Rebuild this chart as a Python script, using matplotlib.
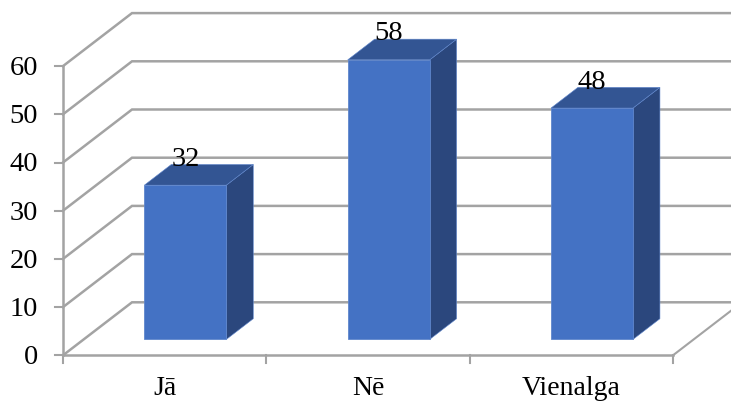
import matplotlib
matplotlib.use("Agg")
import matplotlib.pyplot as plt
from matplotlib.patches import Polygon

categories = ["Jā", "Nē", "Vienalga"]
values = [32, 58, 48]
y_ticks = [0, 10, 20, 30, 40, 50, 60, 70]
y_labels = [0, 10, 20, 30, 40, 50, 60]

W, H = 731, 402
X0, Y0 = 63, 356.3    # pixel position of the axis origin
CAT_W = 203.33        # pixels per category
UNIT = 4.82           # pixels per value unit

# depth of the 3d box, in data units
DX = 69 / CAT_W
DY = 53 / UNIT
BAR_W = 82 / CAT_W
D_NEAR = 0.30
D_FAR = 0.69

GRID = "#a3a3a3"
FRONT = "#4472c4"
SIDE = "#2b477d"
TOP = "#335593"
EDGE = "#5f86cc"

plt.rcParams["font.family"] = ["Liberation Serif", "DejaVu Serif"]

fig = plt.figure(figsize=(W / 100, H / 100), dpi=100)
ax = fig.add_axes([0, 0, 1, 1])
ax.set_xlim(-X0 / CAT_W, (W - X0) / CAT_W)
ax.set_ylim((Y0 - H) / UNIT, Y0 / UNIT)
ax.axis("off")

n = len(categories)

# wall gridlines, the top one has no label on the axis
for t in y_ticks[:-1]:
    ax.plot([0, DX, 4], [t, t + DY, t + DY], color=GRID, lw=1.8, zorder=1,
            solid_joinstyle="miter")

# floor edges
ax.plot([0, n], [0, 0], color=GRID, lw=1.8, zorder=2)
ax.plot([n, n + DX], [0, DY], color=GRID, lw=1.5, zorder=2)

# axes and ticks
ax.plot([0, 0], [0, 60], color=GRID, lw=1.8, zorder=2)
for t in y_labels:
    ax.plot([-8 / CAT_W, 0], [t, t], color=GRID, lw=1.5, zorder=2)
    ax.text(-25 / CAT_W, t - 0.3, str(t), ha="right", va="center", fontsize=20.5,
            color="black")
for i in range(n + 1):
    ax.plot([i, i], [0, -8 / UNIT], color=GRID, lw=1.5, zorder=2)

# bars: front, side and top faces
for i, (cat, v) in enumerate(zip(categories, values)):
    left = i + 0.5 - BAR_W / 2 + D_NEAR * DX
    right = left + BAR_W
    bottom = D_NEAR * DY
    top = bottom + v
    dx = (D_FAR - D_NEAR) * DX
    dy = (D_FAR - D_NEAR) * DY
    ax.add_patch(Polygon([(right, bottom), (right + dx, bottom + dy),
                          (right + dx, top + dy), (right, top)],
                         fc=SIDE, ec=EDGE, lw=0.4, zorder=3))
    ax.add_patch(Polygon([(left, top), (right, top), (right + dx, top + dy),
                          (left + dx, top + dy)],
                         fc=TOP, ec=EDGE, lw=0.4, zorder=3))
    ax.add_patch(Polygon([(left, bottom), (right, bottom), (right, top), (left, top)],
                         fc=FRONT, ec=EDGE, lw=0.6, zorder=4))
    ax.text((left + right) / 2, top + 27 / UNIT, str(v), ha="center", va="center",
            fontsize=20.5, color="black", zorder=5)
    ax.text(i + 0.5, -32 / UNIT, cat, ha="center", va="center", fontsize=20,
            color="black")

fig.savefig("out.png", dpi=100, facecolor="white")
